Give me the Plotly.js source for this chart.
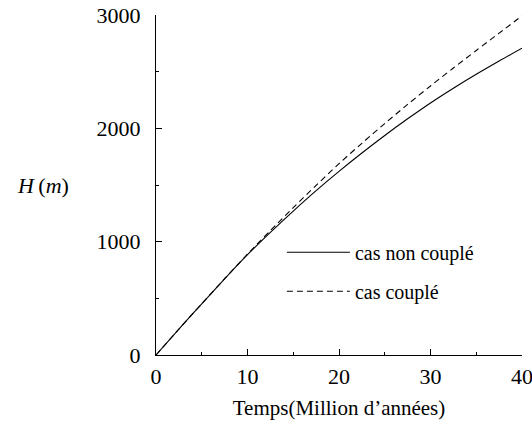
<!DOCTYPE html>
<html>
<head>
<meta charset="utf-8">
<script src="https://cdn.plot.ly/plotly-3.0.1.min.js"></script>
<style>html,body{margin:0;padding:0;background:#fff;}#chart{width:532px;height:429px;}</style>
</head>
<body>
<div id="chart"></div>
<script>
const time = [0, 2.5, 5, 7.5, 10, 12.5, 15, 17.5, 20, 22.5, 25, 27.5, 30, 32.5, 35, 37.5, 40];
const hNonCouple = [0, 228, 452, 672, 885, 1082, 1270, 1450, 1620, 1782, 1937, 2084, 2224, 2354, 2477, 2594, 2707];
const hCouple = [0, 228, 452, 673, 890, 1098, 1300, 1497, 1688, 1868, 2042, 2211, 2374, 2532, 2687, 2840, 2992];
const seriesNames = ['cas non couplé', 'cas couplé'];
const xTicks = [0, 10, 20, 30, 40];
const yTicks = [0, 1000, 2000, 3000];

const font = "Times New Roman";

const traces = [
  {x: time, y: hNonCouple, name: seriesNames[0], legendgroup: 'a', mode: 'lines', line: {color: '#000', width: 1.1, dash: 'solid', shape: 'spline', smoothing: 0.8}, hoverinfo: 'skip'},
  {x: time, y: hCouple, name: seriesNames[1], legendgroup: 'b', mode: 'lines', line: {color: '#000', width: 1.1, dash: '6px,4px', shape: 'spline', smoothing: 0.8}, hoverinfo: 'skip'}
];

const layout = {
  width: 532, height: 429,
  margin: {l: 156, r: 10, t: 15, b: 74},
  paper_bgcolor: '#fff', plot_bgcolor: '#fff',
  font: {family: font, color: '#000', size: 20},
  showlegend: true,
  legend: {x: 0.344, y: 0.245, xanchor: 'left', yanchor: 'middle', bgcolor: 'rgba(0,0,0,0)', itemwidth: 63,
    font: {family: font, size: 20, color: '#000'}, tracegroupgap: 10},
  xaxis: {range: [0, 40], tickvals: xTicks, ticktext: xTicks.map(String), showgrid: false, zeroline: false,
    showline: true, linecolor: '#000', linewidth: 1.2, ticks: 'inside', ticklen: 6, tickcolor: '#000',
    minor: {dtick: 5, ticks: 'inside', ticklen: 3, tickcolor: '#000', showgrid: false},
    tickfont: {family: font, size: 22}, ticklabelstandoff: 1, ticklabeloverflow: 'allow', automargin: false,
    title: {text: 'Temps(Million d\u2019années)', font: {family: font, size: 21}, standoff: 12}},
  yaxis: {range: [0, 3000], tickvals: yTicks, ticktext: yTicks.map(String), showgrid: false, zeroline: false,
    showline: true, linecolor: '#000', linewidth: 1.2, ticks: 'inside', ticklen: 6, tickcolor: '#000',
    minor: {dtick: 500, ticks: 'inside', ticklen: 3, tickcolor: '#000', showgrid: false},
    tickfont: {family: font, size: 22}, ticklabelstandoff: 10},
  annotations: [{text: '<i>H</i>\u2009(<i>m</i>)', xref: 'paper', yref: 'paper', x: -0.31, y: 0.5, xanchor: 'center', yanchor: 'middle',
    showarrow: false, font: {family: font, size: 22}}]
};

Plotly.newPlot('chart', traces, layout, {staticPlot: true});
</script>
</body>
</html>
